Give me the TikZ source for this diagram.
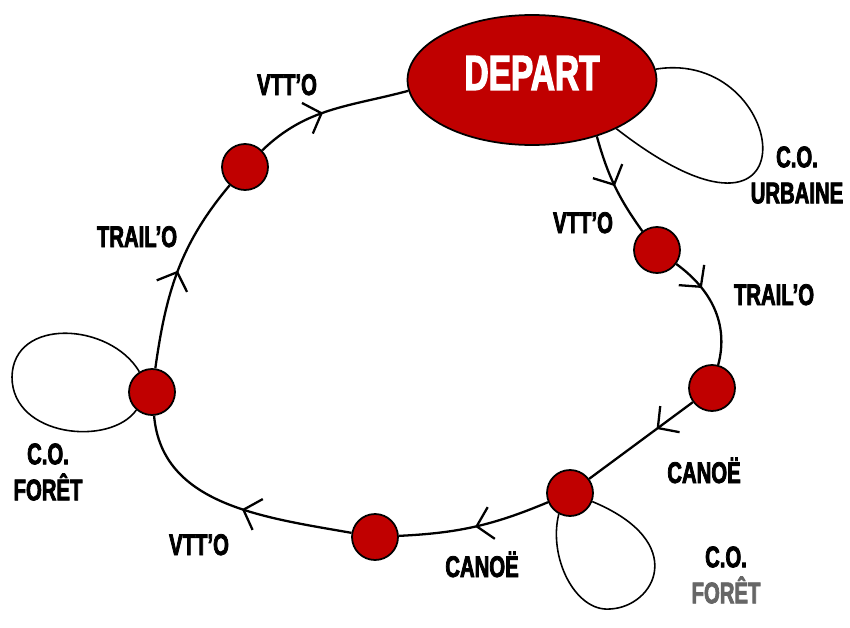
\documentclass[tikz,border=0pt]{standalone}
\usepackage{fontspec}
\setmainfont{Liberation Sans}[FakeStretch=0.68, BoldFeatures={FakeBold=2.5}]
\usetikzlibrary{arrows.meta,decorations.markings,shapes.geometric}
\definecolor{posterouge}{RGB}{192,0,0}

\begin{document}
\begin{tikzpicture}[x=0.02cm, y=0.02cm,
    poste/.style={circle, draw, line width=1pt, fill=posterouge, minimum size=0.92cm, inner sep=0pt},
    depart/.style={ellipse, draw, line width=1pt, fill=posterouge, minimum width=4.98cm, minimum height=2.6cm, inner sep=0pt, text=white, text depth=8pt, font=\fontsize{28}{30}\selectfont\bfseries},
    lbl/.style={font=\fontsize{17}{20}\selectfont\bfseries, inner sep=0pt},
    lbltwo/.style={font=\fontsize{17}{20.5}\selectfont\bfseries, inner sep=0pt, align=center},
    parcours/.style={line width=1.3pt},
    boucle/.style={line width=0.9pt},
    fleche/.style={postaction={decorate, decoration={markings, mark=at position #1 with {\arrow{Straight Barb[length=3mm, width=6.5mm]}}}}}
]
        \useasboundingbox (0,0) rectangle (850,627);

        % Define the start and the checkpoints
        \node[depart] (dep) at (532,547) {DEPART};
        \node[poste] (c1) at (657,377) {};
        \node[poste] (c2) at (712,239) {};
        \node[poste] (c3) at (570,134) {};
        \node[poste] (c4) at (375,90) {};
        \node[poste] (c5) at (152,235) {};
        \node[poste] (c6) at (245,460) {};

        % Define the legs of the course
        \draw[parcours, fleche=0.5] (dep.-41) to[bend right=10] (c1);
        \draw[parcours, fleche=0.3] (c1) to[out=-36, in=75] (c2);
        \draw[parcours, fleche=0.35] (c2) -- (c3);
        \draw[parcours, fleche=0.5] (c3) to[bend left=10] (c4);
        \draw[parcours, fleche=0.45] (c4) to[out=170, in=-85] (c5);
        \draw[parcours, fleche=0.5] (c5) to[out=82, in=-130] (c6);
        \draw[parcours, fleche=0.45] (c6) to[out=44, in=195] (dep.185);

        % Loops for the C.O. legs
        \draw[boucle] (dep.5) .. controls (790,580) and (820,340) .. (dep.-30);
        \draw[boucle] (c5.122) .. controls (110,305) and (13,310) .. (12,250)
            .. controls (12,190) and (110,180) .. (c5.229);
        \draw[boucle] (c3.242) .. controls (548,70) and (575,15) .. (610,18)
            .. controls (655,20) and (690,85) .. (c3.-21);

        % Annotations for the legs
        \node[lbl, anchor=base] (vttA) at (287,532) {VTT'O};
        \node[lbl, anchor=base] (trailA) at (137,380) {TRAIL'O};
        \node[lbl, anchor=base] (vttB) at (199,72) {VTT'O};
        \node[lbl, anchor=base] (canoeA) at (482,50) {CANOË};
        \node[lbl, anchor=base] (canoeB) at (704,144) {CANOË};
        \node[lbl, anchor=base] (trailB) at (774,322) {TRAIL'O};
        \node[lbl, anchor=base] (vttC) at (583,394) {VTT'O};

        % Annotations for the loops
        \node[lbltwo] (coU) at (797,452) {C.O.\\URBAINE};
        \node[lbltwo] (coFa) at (48,155) {C.O.\\FORÊT};
        \node[lbltwo] (coFb) at (726,52) {C.O.\\\textcolor{black!60}{FORÊT}};
\end{tikzpicture}
\end{document}
